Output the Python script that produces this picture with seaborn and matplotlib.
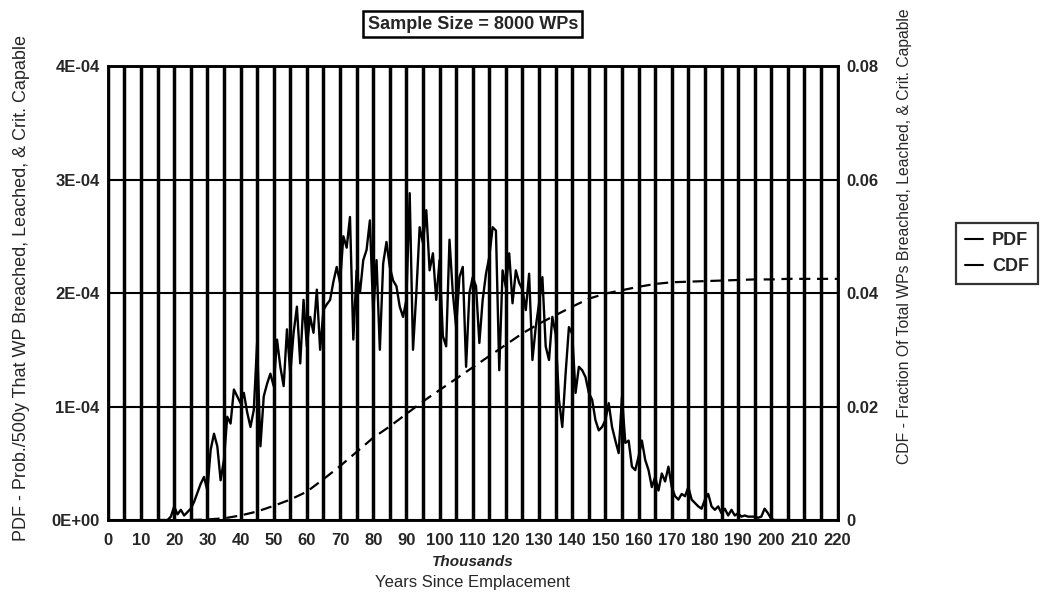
import numpy as np
import pandas as pd
import seaborn as sns
import matplotlib
matplotlib.use("Agg")
import matplotlib.pyplot as plt
from matplotlib.lines import Line2D
from matplotlib.ticker import MultipleLocator, FuncFormatter

# PDF at 1000-year steps (units of 1E-05 per 500 y)
pdf_years_k = np.arange(15, 206)
pdf_e5 = [
    0, 0, 0, 0,
    0.3, 1.2, 0.5, 0.9, 0.4, 0.7, 1.0, 1.6, 2.4, 3.2, 3.8, 2.6,
    6.2, 7.6, 6.5, 3.5, 5.3, 9.1, 8.5, 11.5, 10.9, 10.3,
    11.2, 9.5, 8.2, 9.7, 15.6, 6.5, 10.9, 12.0, 12.9, 11.8,
    15.9, 13.5, 11.8, 16.8, 12.9, 16.5, 18.8, 13.8, 19.4, 15.3,
    17.9, 16.5, 20.3, 15.0, 18.5, 19.0, 19.4, 21.0, 22.3, 20.9,
    25.0, 24.0, 26.7, 15.9, 22.0, 20.0, 22.9, 23.8, 26.4, 18.2,
    22.9, 15.0, 22.6, 24.5, 22.3, 21.1, 20.6, 18.8, 17.9, 19.4,
    28.8, 15.0, 20.0, 25.8, 24.4, 27.3, 22.0, 23.5, 19.4, 22.9,
    16.2, 15.3, 24.7, 20.0, 17.0, 21.4, 22.3, 13.5, 20.0, 21.4,
    20.6, 15.6, 19.4, 21.7, 23.2, 25.8, 25.5, 13.2, 22.0, 20.5,
    23.5, 19.1, 22.0, 20.9, 20.3, 18.5, 21.7, 14.1, 17.0, 19.1,
    21.4, 15.3, 14.1, 17.9, 16.4, 10.6, 8.2, 12.9, 17.0, 16.4,
    11.2, 13.5, 13.2, 12.6, 11.2, 10.6, 8.8, 7.9, 8.2, 8.8,
    10.3, 8.2, 7.0, 5.9, 10.9, 6.8, 7.0, 4.7, 4.4, 5.6,
    7.0, 5.3, 4.4, 2.9, 3.8, 2.6, 4.1, 3.4, 4.7, 2.9,
    2.1, 1.8, 2.3, 2.1, 2.9, 1.8, 1.5, 1.2, 1.0, 1.8,
    2.3, 1.2, 0.9, 1.2, 0.6, 1.0, 0.4, 0.9, 0.4, 0.6,
    0.3, 0.4, 0.3, 0.3, 0.3, 0.2, 0.3, 1.0, 0.6, 0.1,
    0, 0, 0, 0, 0,
]

# CDF, read at 5000-year steps
cdf_years_k = [25, 30, 35, 40, 45, 50, 55, 60, 65, 70, 75, 80, 85, 90, 95, 100,
               105, 110, 115, 120, 125, 130, 135, 140, 145, 150, 155, 160, 165,
               170, 175, 180, 185, 190, 195, 200, 205, 210, 215, 220]
cdf_vals = [0, 0.0001, 0.0003, 0.0008, 0.0015, 0.0025, 0.0036, 0.0050, 0.0072,
            0.0095, 0.0120, 0.0145, 0.0165, 0.0187, 0.0209, 0.0229, 0.0249,
            0.0269, 0.0289, 0.0309, 0.0329, 0.0346, 0.0361, 0.0376, 0.0390,
            0.0399, 0.0405, 0.0411, 0.0416, 0.0419, 0.0420, 0.0421, 0.0422,
            0.0423, 0.0424, 0.0424, 0.0425, 0.0425, 0.0425, 0.0425]

pdf_df = pd.DataFrame({"years": pdf_years_k, "pdf": np.array(pdf_e5) * 1e-5})
cdf_df = pd.DataFrame({"years": cdf_years_k, "cdf": cdf_vals})

sns.set_theme(style="white")
plt.rcParams["font.family"] = ["Liberation Sans", "DejaVu Sans"]

fig = plt.figure(figsize=(10.47, 5.95), dpi=100)
ax = fig.add_axes([0.103, 0.126, 0.697, 0.763])
ax2 = ax.twinx()

sns.lineplot(data=pdf_df, x="years", y="pdf", ax=ax, color="black",
             linewidth=1.7, errorbar=None)
sns.lineplot(data=cdf_df, x="years", y="cdf", ax=ax2, color="black",
             linewidth=1.6, errorbar=None)
ax2.lines[0].set_dashes([5, 3])

ax.set_xlim(0, 220)
ax.set_ylim(0, 4e-4)
ax2.set_ylim(0, 0.08)

ax.xaxis.set_major_locator(MultipleLocator(10))
ax.xaxis.set_minor_locator(MultipleLocator(5))
ax.yaxis.set_major_locator(MultipleLocator(1e-4))
ax2.yaxis.set_major_locator(MultipleLocator(0.02))
ax.yaxis.set_major_formatter(FuncFormatter(lambda v, p: f"{v:.0E}"))
ax2.yaxis.set_major_formatter(FuncFormatter(lambda v, p: "0" if abs(v) < 1e-9 else f"{v:.2f}"))

ax.grid(True, which="both", axis="x", color="black", linewidth=2.5)
ax.grid(True, which="major", axis="y", color="black", linewidth=1.5)
ax2.grid(False)
ax.set_axisbelow(True)

for a in (ax, ax2):
    a.tick_params(length=0, labelsize=12, pad=6)
    for lab in a.get_xticklabels() + a.get_yticklabels():
        lab.set_fontweight("bold")
    for s in a.spines.values():
        s.set_color("black")
        s.set_linewidth(1.8)
ax.tick_params(axis="x", pad=9)

ax.set_xlabel("")
ax.set_ylabel("PDF - Prob./500y That WP Breached, Leached, & Crit. Capable",
              fontsize=13)
ax.yaxis.set_label_coords(-0.107, 0.51)
ax2.set_ylabel("CDF - Fraction Of Total WPs Breached, Leached, & Crit. Capable",
               fontsize=11.3)
ax2.yaxis.set_label_coords(1.082, 0.625)

ax.text(0.5, -0.093, "Thousands", transform=ax.transAxes, ha="center",
        va="center", fontsize=11, fontweight="bold", style="italic")
ax.text(0.5, -0.137, "Years Since Emplacement", transform=ax.transAxes,
        ha="center", va="center", fontsize=12)

ax.text(0.5, 1.092, "Sample Size = 8000 WPs", transform=ax.transAxes,
        ha="center", va="center", fontsize=13, fontweight="bold",
        bbox=dict(boxstyle="square,pad=0.25", facecolor="white",
                  edgecolor="black", linewidth=1.8))

handles = [Line2D([], [], color="black", linewidth=1.5),
           Line2D([], [], color="black", linewidth=1.5)]
leg = fig.legend(handles, ["PDF", "CDF"], loc="upper left",
                 bbox_to_anchor=(0.913, 0.625), frameon=True, fancybox=False,
                 borderaxespad=0, handlelength=1.0, handletextpad=0.5,
                 fontsize=13, borderpad=0.5, labelspacing=0.5)
leg.get_frame().set_edgecolor("black")
leg.get_frame().set_linewidth(1.6)
for t in leg.get_texts():
    t.set_fontweight("bold")

fig.savefig("out.png", dpi=100, facecolor="white")
